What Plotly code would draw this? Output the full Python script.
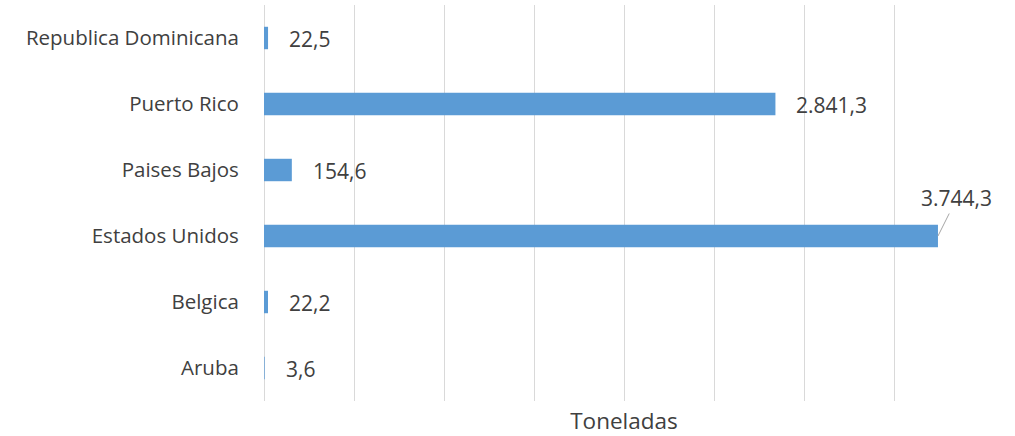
import plotly.graph_objects as go

categories = ["Aruba", "Belgica", "Estados Unidos", "Paises Bajos", "Puerto Rico", "Republica Dominicana"]
values = [3.6, 22.2, 3744.3, 154.6, 2841.3, 22.5]
label_texts = ["3,6", "22,2", "3.744,3", "154,6", "2.841,3", "22,5"]
x_range = [0, 4000]
x_dtick = 500
axis_title = "Toneladas"

BAR = "#5B9BD5"
TXT = "#404040"
FONT = "Open Sans"
FS = 21

fig = go.Figure(go.Bar(
    y=categories, x=values, orientation="h",
    marker=dict(color=BAR, line=dict(width=0)),
    hoverinfo="skip",
))

annotations = []
for cat, v, t in zip(categories, values, label_texts):
    if v >= 3500:
        annotations.append(dict(
            x=v, y=cat, xref="x", yref="y", text=t,
            showarrow=True, arrowhead=0, arrowwidth=1, arrowcolor="#A6A6A6",
            ax=19, ay=-38, standoff=0,
            font=dict(family=FONT, size=FS, color=TXT),
        ))
    else:
        annotations.append(dict(
            x=v, y=cat, xref="x", yref="y", text=t, showarrow=False,
            xanchor="left", xshift=19, yshift=-1,
            font=dict(family=FONT, size=FS, color=TXT),
        ))

fig.update_layout(
    width=1015, height=436,
    margin=dict(l=264, r=31, t=5, b=35),
    paper_bgcolor="white", plot_bgcolor="white",
    bargap=0.66,
    separators=",.",
    showlegend=False,
    font=dict(family=FONT, color=TXT, size=FS),
    annotations=annotations,
    xaxis=dict(
        range=x_range, dtick=x_dtick, tick0=0,
        showgrid=True, gridcolor="#D9D9D9", gridwidth=1,
        showticklabels=False, zeroline=True, zerolinecolor="#D9D9D9", zerolinewidth=1,
        showline=False, ticks="",
        title=dict(text=axis_title, font=dict(family=FONT, size=22.5, color=TXT), standoff=14),
        fixedrange=True,
    ),
    yaxis=dict(
        showgrid=False, showline=False, ticks="outside", ticklen=20, tickcolor="rgba(0,0,0,0)",
        tickfont=dict(family=FONT, size=20.5, color=TXT),
        fixedrange=True,
    ),
)

fig.write_html(
    "out.html",
    config=dict(displayModeBar=False, staticPlot=True),
    post_script="document.body.style.margin='0';document.body.style.overflow='hidden';",
)
